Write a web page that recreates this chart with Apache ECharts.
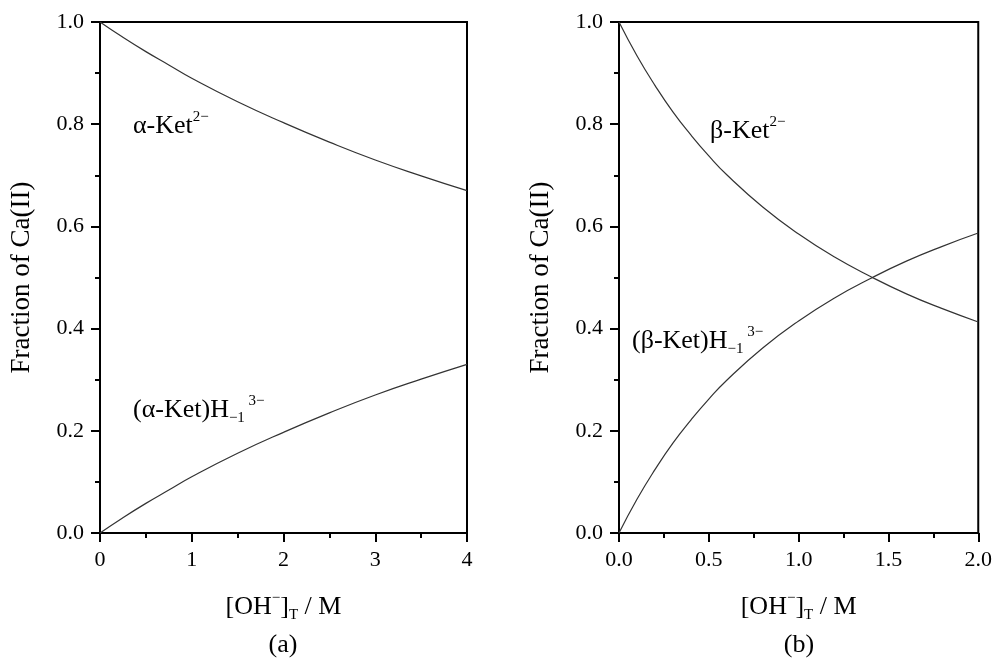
<!DOCTYPE html>
<html>
<head>
<meta charset="utf-8">
<script src="https://cdn.jsdelivr.net/npm/echarts@6/dist/echarts.min.js"></script>
<style>
  html, body { margin: 0; padding: 0; background: #fff; }
  #chart { width: 995px; height: 661px; }
</style>
</head>
<body>
<div id="chart"></div>
<script>
// panel (a): α-Ket
const xA = [0, 0.25, 0.5, 0.75, 1, 1.5, 2, 2.5, 3, 3.5, 4];
const ketA = [1, 0.970, 0.942, 0.916, 0.890, 0.844, 0.803, 0.765, 0.730, 0.699, 0.670];
const ketHA = [0, 0.030, 0.058, 0.084, 0.110, 0.156, 0.197, 0.235, 0.270, 0.301, 0.330];

// panel (b): β-Ket
const xB = [0, 0.1, 0.2, 0.3, 0.4, 0.5, 0.6, 0.8, 1.0, 1.2, 1.4, 1.6, 1.8, 2.0];
const ketB = [1, 0.934, 0.876, 0.824, 0.779, 0.738, 0.701, 0.638, 0.585, 0.540, 0.502, 0.468, 0.439, 0.413];
const ketHB = [0, 0.066, 0.124, 0.176, 0.221, 0.262, 0.299, 0.362, 0.415, 0.460, 0.498, 0.532, 0.561, 0.587];

const FONT = 'Liberation Serif';
const pair = (xs, ys) => xs.map((x, i) => [x, ys[i]]);

const richName = {
  m: { fontFamily: FONT, fontSize: 26, color: '#000', lineHeight: 32 },
  sup: { fontFamily: FONT, fontSize: 15, color: '#000', verticalAlign: 'top', lineHeight: 32 },
  sub: { fontFamily: FONT, fontSize: 15, color: '#000', verticalAlign: 'bottom', lineHeight: 28 }
};
const richLabel = {
  m: { fontFamily: FONT, fontSize: 26, color: '#000', lineHeight: 32 },
  sup: { fontFamily: FONT, fontSize: 15, color: '#000', verticalAlign: 'top', lineHeight: 32 },
  sub: { fontFamily: FONT, fontSize: 15, color: '#000', verticalAlign: 'bottom', lineHeight: 28 }
};

function xAxisFor(gridIndex, max, interval, fmt) {
  return {
    gridIndex, type: 'value', min: 0, max, interval,
    name: '{m|[OH}{sup|−}{m|]}{sub|T}{m| / M}',
    nameLocation: 'middle', nameGap: 58,
    nameTextStyle: { rich: richName },
    axisLine: { lineStyle: { color: '#000', width: 2 } },
    axisTick: { inside: false, length: 9, lineStyle: { color: '#000', width: 2 } },
    minorTick: { show: true, splitNumber: 2, length: 5, lineStyle: { color: '#000', width: 2 } },
    axisLabel: { fontFamily: FONT, fontSize: 22, color: '#000', margin: 16, formatter: fmt },
    splitLine: { show: false }
  };
}
function yAxisFor(gridIndex) {
  return {
    gridIndex, type: 'value', min: 0, max: 1, interval: 0.2,
    name: 'Fraction of Ca(II)',
    nameLocation: 'middle', nameGap: 65,
    nameTextStyle: { fontFamily: FONT, fontSize: 27, color: '#000' },
    axisLine: { lineStyle: { color: '#000', width: 2 } },
    axisTick: { length: 9, lineStyle: { color: '#000', width: 2 } },
    minorTick: { show: true, splitNumber: 2, length: 5, lineStyle: { color: '#000', width: 2 } },
    axisLabel: { fontFamily: FONT, fontSize: 22, color: '#000', margin: 16, formatter: v => v.toFixed(1) },
    splitLine: { show: false }
  };
}
function lineSeries(idx, data) {
  return {
    type: 'line', xAxisIndex: idx, yAxisIndex: idx, data,
    smooth: true, showSymbol: false, symbol: 'none',
    lineStyle: { color: '#333', width: 1.2 },
    silent: true
  };
}

const chart = echarts.init(document.getElementById('chart'));
chart.setOption({
  backgroundColor: '#fff',
  animation: false,
  grid: [
    { left: 100, top: 22, width: 367, height: 511, show: true, borderColor: '#000', borderWidth: 2 },
    { left: 619, top: 22, width: 360, height: 511, show: true, borderColor: '#000', borderWidth: 2 }
  ],
  xAxis: [
    xAxisFor(0, 4, 1, v => String(v)),
    xAxisFor(1, 2, 0.5, v => v.toFixed(1))
  ],
  yAxis: [yAxisFor(0), yAxisFor(1)],
  series: [
    lineSeries(0, pair(xA, ketA)),
    lineSeries(0, pair(xA, ketHA)),
    lineSeries(1, pair(xB, ketB)),
    lineSeries(1, pair(xB, ketHB))
  ],
  graphic: [
    { type: 'text', left: 133, top: 110, style: { text: '{m|α-Ket}{sup|2−}', rich: richLabel } },
    { type: 'text', left: 133, top: 394, style: { text: '{m|(α-Ket)H}{sub|−1}{sup| 3−}', rich: richLabel } },
    { type: 'text', left: 710, top: 115, style: { text: '{m|β-Ket}{sup|2−}', rich: richLabel } },
    { type: 'text', left: 632, top: 325, style: { text: '{m|(β-Ket)H}{sub|−1}{sup| 3−}', rich: richLabel } },
    { type: 'text', x: 283, y: 645, style: { text: '(a)', fontFamily: FONT, fontSize: 26, fill: '#000', align: 'center', verticalAlign: 'middle' } },
    { type: 'text', x: 799, y: 645, style: { text: '(b)', fontFamily: FONT, fontSize: 26, fill: '#000', align: 'center', verticalAlign: 'middle' } }
  ]
});
</script>
</body>
</html>
